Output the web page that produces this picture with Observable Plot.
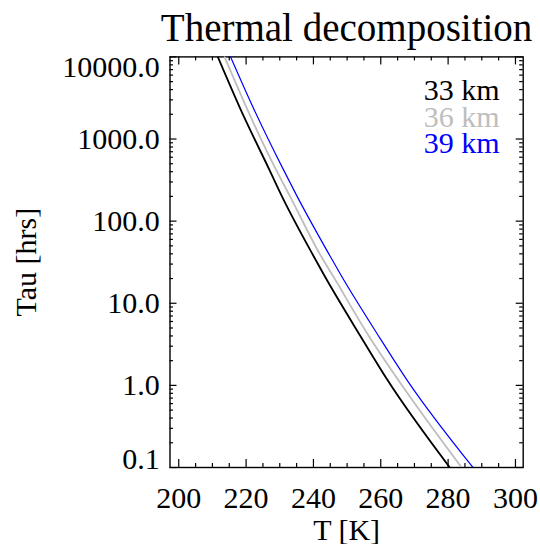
<!DOCTYPE html>
<html><head><meta charset="utf-8">
<script src="https://cdn.jsdelivr.net/npm/d3@7"></script>
<script src="https://cdn.jsdelivr.net/npm/@observablehq/plot@0.6"></script>
<style>html,body{margin:0;padding:0;background:#fff;} svg{display:block}</style>
</head><body><div id="chart"></div>
<script>
// ---- data ----
const seriesNames = ["33 km", "36 km", "39 km"];
const seriesColors = ["#000000", "#bebebe", "#0000ff"];
const seriesWidths = [1.8, 1.8, 1.2];
// lifetime levels (hrs) at which the curves were read
const tauHrs = [10000, 2230, 415, 206, 38.4, 21.9, 4.08, 1.16, 0.1];
// temperature (K) of each curve at those levels
const T33 = [211.6, 218.5, 227.0, 230.5, 239.9, 243.2, 253.8, 262.0, 280.5];
const T36 = [213.6, 220.5, 229.0, 232.9, 242.1, 245.7, 256.3, 265.2, 284.0];
const T39 = [215.4, 222.5, 231.2, 235.0, 244.8, 248.2, 259.2, 267.8, 287.4];
const xTickLabels = [200, 220, 240, 260, 280, 300];
const yTickLabels = [0.1, 1, 10, 100, 1000, 10000];
const titleText = "Thermal decomposition";
const xLabel = "T [K]";
const yLabel = "Tau [hrs]";

// ---- layout ----
const W = 540, H = 544;
const mL = 169.5, mR = 17.3, mT = 56.4, mB = 77;
const plotH = H - mT - mB, plotW = W - mL - mR;
const font = '"Liberation Serif","Times New Roman",serif';

const temps = [T33, T36, T39];
const rows = seriesNames.flatMap((name, i) => tauHrs.map((tau, j) => ({series: name, T: temps[i][j], tau})));

const xMinor = d3.range(200, 301, 5).filter(v => !xTickLabels.includes(v));
const yMinor = [];
for (let e = -1; e < 4; e++) for (let m = 2; m < 10; m++) yMinor.push(m * Math.pow(10, e));

const marks = [];
// ticks (inward, mirrored)
marks.push(Plot.tickX(xTickLabels, {x: d => d, insetTop: plotH - 8, strokeWidth: 1.2}));
marks.push(Plot.tickX(xMinor, {x: d => d, insetTop: plotH - 4, strokeWidth: 1.2}));
marks.push(Plot.tickX(xTickLabels, {x: d => d, insetBottom: plotH - 8, strokeWidth: 1.2}));
marks.push(Plot.tickX(xMinor, {x: d => d, insetBottom: plotH - 4, strokeWidth: 1.2}));
marks.push(Plot.tickY(yTickLabels, {y: d => d, insetRight: plotW - 7, strokeWidth: 1.2}));
marks.push(Plot.tickY(yMinor, {y: d => d, insetRight: plotW - 3.5, strokeWidth: 1.2}));
marks.push(Plot.tickY(yTickLabels, {y: d => d, insetLeft: plotW - 7, strokeWidth: 1.2}));
marks.push(Plot.tickY(yMinor, {y: d => d, insetLeft: plotW - 3.5, strokeWidth: 1.2}));
marks.push(Plot.frame({stroke: "#000", strokeWidth: 1.4}));

// curves
seriesNames.forEach((name, i) => {
  marks.push(Plot.line(rows.filter(r => r.series === name), {
    x: "T", y: "tau", stroke: seriesColors[i], strokeWidth: seriesWidths[i], curve: "monotone-x", clip: true
  }));
});

// x tick labels
marks.push(Plot.text(xTickLabels, {x: d => d, text: d => String(d), frameAnchor: "bottom", textAnchor: "middle", lineAnchor: "middle", dy: 31, fontSize: 30}));
// y tick labels (end labels nudged inside the frame like the reference)
const yFmt = d => d.toFixed(1);
marks.push(Plot.text(yTickLabels.slice(1, -1), {y: d => d, text: yFmt, frameAnchor: "left", textAnchor: "end", lineAnchor: "middle", dx: -10.2, fontSize: 30}));
marks.push(Plot.text(yTickLabels.slice(-1), {y: d => d, text: yFmt, frameAnchor: "left", textAnchor: "end", lineAnchor: "middle", dx: -10.2, dy: 10.3, fontSize: 30}));
marks.push(Plot.text(yTickLabels.slice(0, 1), {y: d => d, text: yFmt, frameAnchor: "left", textAnchor: "end", lineAnchor: "middle", dx: -10.2, dy: -8.5, fontSize: 30}));

// axis titles and title
marks.push(Plot.text([xLabel], {text: d => d, frameAnchor: "bottom", textAnchor: "middle", lineAnchor: "bottom", dy: 72.5, fontSize: 30}));
marks.push(Plot.text([yLabel], {text: d => d, frameAnchor: "left", textAnchor: "middle", lineAnchor: "bottom", rotate: -90, dx: -134.5, fontSize: 30}));
marks.push(Plot.text([titleText], {text: d => d, frameAnchor: "top", textAnchor: "middle", lineAnchor: "bottom", dy: -15.7, fontSize: 39}));

// legend
seriesNames.forEach((name, i) => {
  marks.push(Plot.text([name], {text: d => d, frameAnchor: "top-right", textAnchor: "end", lineAnchor: "middle",
    dx: -23.7, dy: 33.4 + i * 26.7, fill: seriesColors[i], fontSize: 30}));
});

const chart = Plot.plot({
  width: W, height: H,
  marginLeft: mL, marginRight: mR, marginTop: mT, marginBottom: mB,
  style: {fontFamily: font, background: "#fff", color: "#000", overflow: "visible"},
  x: {domain: [197.4, 302.3], axis: null},
  y: {type: "log", domain: [0.1, 10000], axis: null},
  marks
});
document.getElementById("chart").appendChild(chart);
</script>
</body></html>
